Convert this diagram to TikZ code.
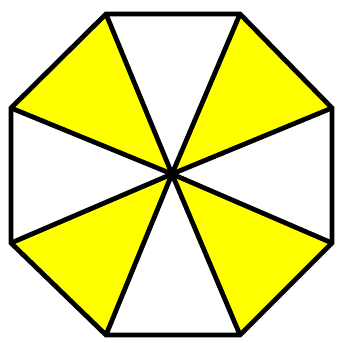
\documentclass[tikz,border=0pt]{standalone}
\usepackage{tikz}
\definecolor{sliceyellow}{RGB}{255,255,0}
\begin{document}
\begin{tikzpicture}[
  x=1pt, y=-1pt,
  edge/.style={draw=black, line width=4.8pt, line join=miter},
  yslice/.style={fill=sliceyellow},
  wslice/.style={fill=white}
]
  \useasboundingbox (0,0) rectangle (339,343);

  % Octagon corners and centre
  \coordinate (o)  at (172,174);
  \coordinate (v1) at (106,14);
  \coordinate (v2) at (240,14);
  \coordinate (v3) at (332,108);
  \coordinate (v4) at (332,243);
  \coordinate (v5) at (240,335);
  \coordinate (v6) at (106,335);
  \coordinate (v7) at (11,243);
  \coordinate (v8) at (11,108);

  % Slices
  \fill[wslice] (o) -- (v1) -- (v2) -- cycle;
  \fill[yslice] (o) -- (v2) -- (v3) -- cycle;
  \fill[wslice] (o) -- (v3) -- (v4) -- cycle;
  \fill[yslice] (o) -- (v4) -- (v5) -- cycle;
  \fill[wslice] (o) -- (v5) -- (v6) -- cycle;
  \fill[yslice] (o) -- (v6) -- (v7) -- cycle;
  \fill[wslice] (o) -- (v7) -- (v8) -- cycle;
  \fill[yslice] (o) -- (v8) -- (v1) -- cycle;

  % Spokes and outline
  \foreach \v in {v1,v2,v3,v4,v5,v6,v7,v8}
    \draw[edge] (o) -- (\v);
  \draw[edge] (v1) -- (v2) -- (v3) -- (v4) -- (v5) -- (v6) -- (v7) -- (v8) -- cycle;
\end{tikzpicture}
\end{document}
